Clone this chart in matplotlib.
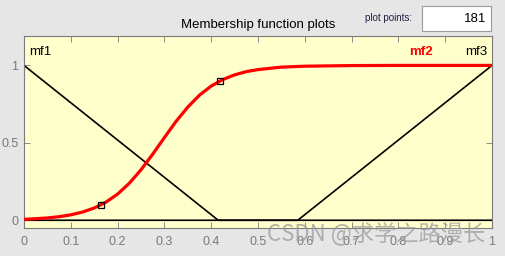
import matplotlib.pyplot as plt

# membership functions
mf1_x = [0.0, 0.415, 1.0]
mf1_y = [1.0, 0.0, 0.0]
mf3_x = [0.0, 0.585, 1.0]
mf3_y = [0.0, 0.0, 1.0]

mf2_x = [0.0, 0.025, 0.05, 0.075, 0.1, 0.125, 0.15, 0.175, 0.2, 0.225, 0.25,
         0.275, 0.3, 0.325, 0.35, 0.375, 0.4, 0.425, 0.45, 0.475, 0.5, 0.55,
         0.6, 0.7, 0.8, 1.0]
mf2_y = [0.006, 0.010, 0.015, 0.023, 0.035, 0.053, 0.079, 0.117, 0.169, 0.239,
         0.326, 0.427, 0.534, 0.639, 0.731, 0.808, 0.867, 0.909, 0.939, 0.960,
         0.973, 0.989, 0.995, 0.999, 1.0, 1.0]
# square handles on mf2
handle_x = [0.1645, 0.419]
handle_y = [0.1, 0.9]

mf_names = ['mf1', 'mf2', 'mf3']
label_x = [0.01, 0.848, 0.99]
label_y = 1.085

x_ticks = [0, 0.1, 0.2, 0.3, 0.4, 0.5, 0.6, 0.7, 0.8, 0.9, 1]
x_ticklabels = ['0', '0.1', '0.2', '0.3', '0.4', '0.5', '0.6', '0.7', '0.8', '0.9', '1']
y_ticks = [0, 0.5, 1]
y_ticklabels = ['0', '0.5', '1']

plt.rcParams['font.family'] = ['Liberation Sans', 'DejaVu Sans']

fig = plt.figure(figsize=(5.06, 2.56), dpi=100)
fig.patch.set_facecolor('#e6e6e6')
ax = fig.add_axes([24 / 506, (256 - 228) / 256, 468 / 506, 192 / 256])
ax.set_facecolor('#ffffcc')

ax.plot(mf1_x, mf1_y, color='black', lw=1.2, zorder=2)
ax.plot(mf3_x, mf3_y, color='black', lw=1.2, zorder=2)
ax.plot(mf2_x, mf2_y, color='red', lw=2.3, zorder=3)
ax.plot(handle_x, handle_y, 's', mfc='none', mec='black', ms=5, mew=0.9, zorder=4)

for name, lx in zip(mf_names, label_x):
    ha = 'left'
    if name == 'mf2':
        ha = 'center'
    elif name == 'mf3':
        ha = 'right'
    if name == 'mf2':
        ax.text(lx, label_y, name, color='red', fontweight='bold', fontsize=9.5, ha=ha, va='center')
    else:
        ax.text(lx, label_y, name, color='black', fontsize=9.5, ha=ha, va='center')

ax.set_xlim(0, 1)
ax.set_ylim(-0.05, 1.19)
ax.set_xticks(x_ticks)
ax.set_xticklabels(x_ticklabels)
ax.set_yticks(y_ticks)
ax.set_yticklabels(y_ticklabels)
ax.tick_params(direction='in', length=4, width=0.6, colors='#7a7a7a', labelsize=9,
               top=True, right=True, pad=6)
ax.tick_params(axis='y', pad=4)
for s in ax.spines.values():
    s.set_color('#7a7a7a')
    s.set_linewidth(0.8)
ax.set_xlabel('input variable "input1"', fontsize=9, color='#404040', labelpad=8)

# title and plot points box
fig.text(258 / 506, 1 - 25 / 256, 'Membership function plots', fontsize=9.5, ha='center', va='center')
fig.text(412 / 506, 1 - 18 / 256, 'plot points:', fontsize=7, ha='right', va='center', color='#202040')
box = plt.Rectangle((422 / 506, 1 - 31 / 256), 69 / 506, 25 / 256, transform=fig.transFigure,
                    facecolor='white', edgecolor='#9a9a9a', lw=0.8)
fig.patches.append(box)
fig.text(486 / 506, 1 - 19 / 256, '181', fontsize=9.5, ha='right', va='center')

# watermark
fig.text(376 / 506, 1 - 234 / 256, 'CSDN @求学之路漫长', fontsize=16, ha='center', va='center',
         color='#9a9a9a', alpha=0.75, family=['Noto Sans CJK SC', 'DejaVu Sans'])

fig.savefig('out.png', dpi=100, facecolor=fig.get_facecolor())
